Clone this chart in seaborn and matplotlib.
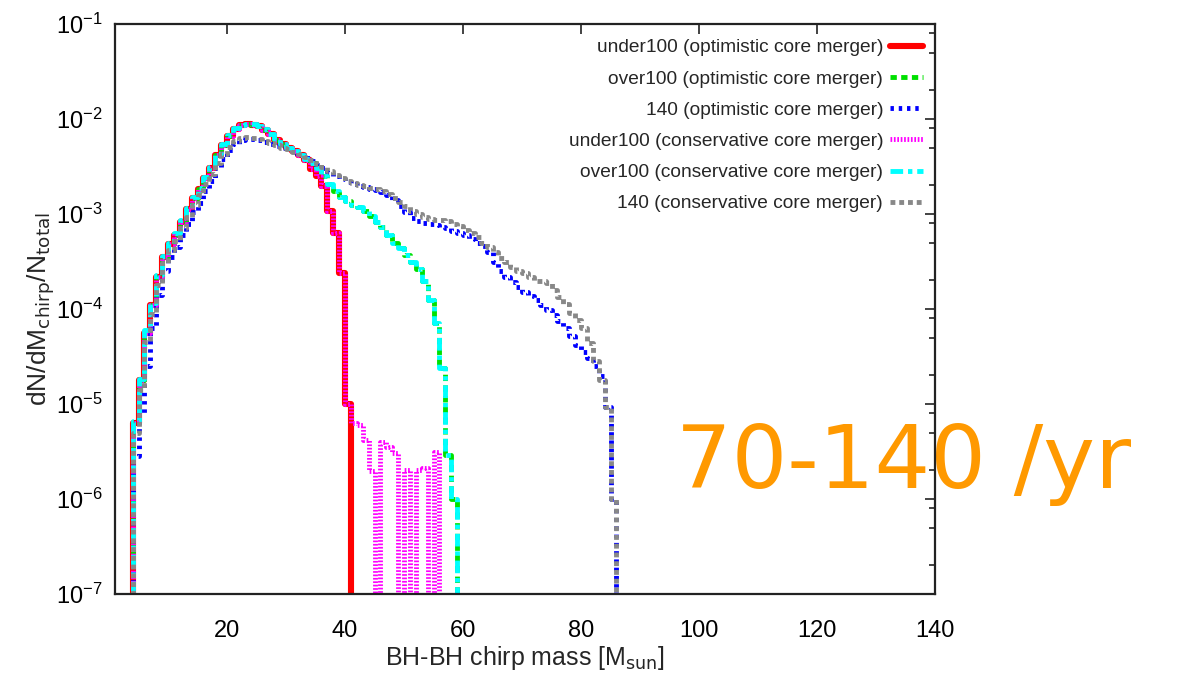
import numpy as np
import pandas as pd
import matplotlib
matplotlib.use("Agg")
import matplotlib.pyplot as plt
import seaborn as sns
from matplotlib.ticker import LogLocator, FixedLocator, NullFormatter, LogFormatterSciNotation

# ---------------- data ----------------
# chirp-mass bins [M_sun]: 1 M_sun wide, the first bin spans 4-5 M_sun
first_bin_low_edge = 4
bin_width = 1
# log10(dN/dM_chirp / N_total) per bin, None = empty bin
under100_opt = [-5.20, -4.75, -4.25, -3.96, -3.66, -3.45, -3.32, -3.22, -3.08, -2.95,
                -2.83, -2.74, -2.62, -2.52, -2.38, -2.27, -2.18, -2.10, -2.06, -2.05,
                -2.06, -2.07, -2.12, -2.16, -2.22, -2.26, -2.30, -2.34, -2.38, -2.43,
                -2.53, -2.60, -2.70, -2.97, -3.20, -3.62, -5.00]
over100_opt = [-5.20, -4.75, -4.25, -3.96, -3.66, -3.45, -3.32, -3.22, -3.08, -2.95,
               -2.83, -2.74, -2.62, -2.52, -2.38, -2.27, -2.18, -2.10, -2.06, -2.05,
               -2.06, -2.07, -2.12, -2.16, -2.22, -2.26, -2.30, -2.34, -2.38, -2.43,
               -2.46, -2.52, -2.60, -2.68, -2.76, -2.82, -2.86, -2.90, -2.93, -2.97,
               -3.02, -3.08, -3.14, -3.22, -3.30, -3.36, -3.43, -3.50, -3.58, -3.70,
               -3.90, -4.15, -4.62, -5.54, -6.00]
m140_opt = [-5.55, -5.10, -4.60, -4.20, -3.85, -3.60, -3.45, -3.35, -3.22, -3.10,
            -2.98, -2.88, -2.76, -2.65, -2.52, -2.42, -2.33, -2.26, -2.22, -2.21,
            -2.21, -2.22, -2.24, -2.26, -2.28, -2.31, -2.33, -2.36, -2.38, -2.41,
            -2.44, -2.48, -2.52, -2.56, -2.60, -2.63, -2.66, -2.68, -2.70, -2.72,
            -2.74, -2.75, -2.77, -2.80, -2.85, -2.92, -2.98, -3.04, -3.07, -3.09,
            -3.10, -3.12, -3.14, -3.15, -3.18, -3.20, -3.22, -3.26, -3.30, -3.34,
            -3.40, -3.50, -3.60, -3.66, -3.72, -3.77, -3.82, -3.86, -3.90, -3.96,
            -4.01, -4.06, -4.13, -4.20, -4.28, -4.38, -4.45, -4.52, -4.60, -4.70,
            -5.03, -6.00]
under100_cons = [-5.20, -4.75, -4.25, -3.96, -3.66, -3.45, -3.32, -3.22, -3.08, -2.95,
                 -2.83, -2.74, -2.62, -2.52, -2.38, -2.27, -2.18, -2.10, -2.06, -2.05,
                 -2.06, -2.07, -2.12, -2.16, -2.22, -2.26, -2.30, -2.34, -2.38, -2.43,
                 -2.53, -2.60, -2.70, -2.97, -3.20, -3.62, -5.00,
                 -5.20, -5.22, -5.38, -5.70, None, -5.40, -5.45, -5.52, None, -5.69,
                 None, -5.69, -5.67, None, -5.50]
over100_cons = [-5.18, -4.74, -4.22, -3.94, -3.64, -3.44, -3.30, -3.20, -3.06, -2.94,
                -2.82, -2.73, -2.61, -2.51, -2.37, -2.26, -2.17, -2.09, -2.06, -2.05,
                -2.05, -2.07, -2.11, -2.16, -2.21, -2.26, -2.30, -2.34, -2.38, -2.42,
                -2.46, -2.52, -2.60, -2.68, -2.76, -2.82, -2.86, -2.90, -2.93, -2.97,
                -3.02, -3.08, -3.14, -3.22, -3.30, -3.36, -3.43, -3.50, -3.58, -3.70,
                -3.90, -4.15, -4.62, -5.54, -6.00]
m140_cons = [-5.30, -4.85, -4.35, -4.05, -3.75, -3.52, -3.38, -3.28, -3.15, -3.03,
             -2.90, -2.80, -2.68, -2.58, -2.46, -2.37, -2.29, -2.23, -2.20, -2.19,
             -2.20, -2.21, -2.23, -2.25, -2.27, -2.30, -2.32, -2.35, -2.37, -2.40,
             -2.43, -2.47, -2.51, -2.55, -2.59, -2.62, -2.65, -2.67, -2.69, -2.71,
             -2.73, -2.74, -2.76, -2.79, -2.83, -2.87, -2.92, -2.97, -3.00, -3.03,
             -3.05, -3.06, -3.06, -3.07, -3.10, -3.13, -3.17, -3.20, -3.24, -3.30,
             -3.35, -3.40, -3.46, -3.51, -3.56, -3.60, -3.62, -3.66, -3.70, -3.71,
             -3.73, -3.80, -3.87, -3.95, -4.04, -4.12, -4.20, -4.36, -4.55, -4.75,
             -5.03, -6.00]

labels = ["under100 (optimistic core merger)",
          "over100 (optimistic core merger)",
          "140 (optimistic core merger)",
          "under100 (conservative core merger)",
          "over100 (conservative core merger)",
          "140 (conservative core merger)"]
series = [under100_opt, over100_opt, m140_opt, under100_cons, over100_cons, m140_cons]
colors = ["#ff0000", "#00e000", "#0000ff", "#ff00ff", "#00ffff", "#888888"]
dash_styles = ["", (1.3, 0.9), (0.7, 1.0), (0.35, 0.35), (2.6, 1.0, 0.9, 1.0), (1.0, 0.8)]
line_widths = [4.4, 3.5, 3.5, 3.5, 3.5, 3.5]

x_ticks = [20, 40, 60, 80, 100, 120, 140]
y_ticks = [1e-7, 1e-6, 1e-5, 1e-4, 1e-3, 1e-2, 1e-1]

# --------------- long table ---------------
rows = []
for lab, vals in zip(labels, series):
    n = len(vals)
    c0 = first_bin_low_edge + bin_width / 2
    rows.append((c0 - bin_width, 0.0, lab))
    for i, v in enumerate(vals):
        rows.append((c0 + i * bin_width, 0.0 if v is None else 10.0 ** v, lab))
    rows.append((c0 + n * bin_width, 0.0, lab))
df = pd.DataFrame(rows, columns=["mass", "frac", "series"])

# --------------- plot ---------------
sns.set_style("white")
plt.rcParams["font.family"] = ["Liberation Sans", "DejaVu Sans"]
plt.rcParams["mathtext.default"] = "regular"

fig = plt.figure(figsize=(11.83, 6.73), dpi=100)
ax = fig.add_axes([115 / 1183, 1 - 594 / 673, 820 / 1183, 570 / 673])

sns.lineplot(data=df, x="mass", y="frac", hue="series", style="series",
             hue_order=labels, style_order=labels,
             palette=dict(zip(labels, colors)), dashes=dict(zip(labels, dash_styles)),
             estimator=None, sort=True, drawstyle="steps-mid", linewidth=3.5,
             ax=ax, legend=True)
data_lines = [ln for ln in ax.lines if len(ln.get_xdata()) > 2]
for ln, lw in zip(data_lines, line_widths):
    ln.set_linewidth(lw)

ax.set_yscale("log")
ax.set_ylim(1e-7, 1e-1)
ax.set_xlim(1, 140)
ax.xaxis.set_major_locator(FixedLocator(x_ticks))
ax.yaxis.set_major_locator(FixedLocator(y_ticks))
ax.yaxis.set_major_formatter(LogFormatterSciNotation())
minor_y = [m * 10.0 ** e for e in range(-7, -1) for m in (2.0, 5.0, 8.0)]
ax.yaxis.set_minor_locator(FixedLocator(minor_y))
ax.yaxis.set_minor_formatter(NullFormatter())

ax.tick_params(which="both", direction="in", top=True, right=True, colors="#222222",
               labelcolor="black", labelsize=17, width=1.2)
ax.tick_params(which="major", length=7, pad=9)
ax.tick_params(which="minor", length=4)
ax.tick_params(axis="x", which="major", pad=19)
for sp in ax.spines.values():
    sp.set_linewidth(1.6)
    sp.set_color("#222222")

ax.set_xlabel(r"BH-BH chirp mass [M$_{\mathrm{sun}}$]", fontsize=18, labelpad=1)
ax.set_ylabel(r"dN/dM$_{\mathrm{chirp}}$/N$_{\mathrm{total}}$", fontsize=19, labelpad=0)

sns.move_legend(ax, "upper right", bbox_to_anchor=(0.9854, 0.9737), title=None,
                frameon=False, markerfirst=False, fontsize=13.8, handlelength=1.72,
                handletextpad=0.36, labelspacing=0.72, borderaxespad=0, borderpad=0)
leg = ax.get_legend()
for ln, lw in zip(leg.get_lines(), line_widths):
    ln.set_linewidth(lw)

ax.text(0.684, 0.186, "70-140 /yr", transform=ax.transAxes, fontsize=63,
        color="#ff9900", family="DejaVu Sans", ha="left", va="baseline",
        zorder=2, clip_on=False)

fig.savefig("out.png", dpi=100)
